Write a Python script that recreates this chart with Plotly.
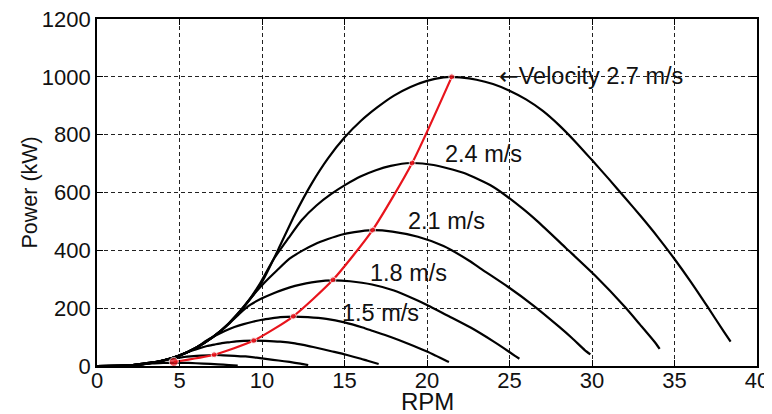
import plotly.graph_objects as go

# ---- data (RPM, kW) ----
rpm_27 = [0, 2, 3, 4, 5, 6, 7, 8, 9, 10, 11, 12, 13, 14, 15, 16, 17, 18, 19, 20, 21, 21.4, 22, 23, 24, 25, 26, 27, 28, 29, 30, 31, 32, 33, 34, 35, 36, 37, 38, 38.4]
kw_27 = [0, 2, 8, 19, 36, 63, 99, 148, 211, 290, 405, 525, 630, 718, 790, 848, 895, 935, 965, 986, 998, 1000, 998, 990, 975, 952, 922, 883, 833, 775, 712, 648, 582, 515, 445, 370, 290, 205, 118, 84]

rpm_24 = [0, 2, 4, 5, 6, 7, 8, 8.9, 9.8, 10.7, 11.6, 12.4, 13.3, 14.2, 15.1, 16.0, 16.9, 17.8, 19.0, 20.4, 22.2, 24.0, 25.8, 26.7, 28.4, 30.2, 32.0, 32.9, 33.8, 34.1]
kw_24 = [0, 2, 19, 36, 63, 99, 148, 204, 278, 369, 442, 504, 555, 595, 628, 656, 677, 692, 702, 695, 668, 620, 544, 500, 409, 312, 204, 144, 83, 59]

rpm_21 = [0, 2, 4, 5, 6, 7, 7.8, 8.56, 9.33, 10.1, 10.9, 11.67, 12.45, 13.2, 14.0, 14.8, 15.6, 16.65, 17.9, 19.45, 21.0, 22.56, 23.3, 24.9, 26.45, 28.0, 28.8, 29.56, 29.9]
kw_21 = [0, 2, 19, 36, 63, 99, 136, 183, 236, 285, 330, 371, 399, 421, 439, 454, 463, 470, 465, 447, 415, 364, 335, 274, 209, 136, 96, 55, 40]

rpm_18 = [0, 2, 4, 5, 6, 7.33, 8.0, 8.67, 9.33, 10.0, 10.67, 11.33, 12.0, 12.67, 13.33, 14.27, 15.33, 16.67, 18.0, 19.33, 20.0, 21.33, 22.67, 24.0, 24.67, 25.33, 25.6]
kw_18 = [0, 2, 19, 36, 62, 114, 146, 183, 213, 234, 251, 265, 277, 286, 292, 296, 293, 282, 261, 229, 211, 172, 132, 86, 61, 35, 25]

rpm_15 = [0, 2, 3, 4, 5, 5.56, 6.11, 6.67, 7.22, 7.78, 8.33, 8.89, 9.44, 10.0, 10.56, 11.1, 11.9, 12.78, 13.9, 15.0, 16.1, 16.67, 17.8, 18.9, 20.0, 20.56, 21.1, 21.33]
kw_15 = [0, 2, 8, 19, 36, 50, 67, 89, 106, 122, 135, 145, 153, 160, 165, 169, 171, 169, 163, 151, 133, 122, 100, 76, 50, 35, 20, 14]

rpm_12 = [0, 2, 3, 4, 4.44, 5.33, 5.78, 6.22, 6.67, 7.11, 7.56, 8.0, 8.44, 8.89, 9.5, 10.2, 11.1, 12.0, 12.9, 13.3, 14.2, 15.1, 16.0, 16.4, 17.07]
kw_12 = [0, 2, 8, 18, 25, 44, 54, 62, 69, 74, 79, 82, 85, 87, 88, 87, 84, 78, 68, 63, 51, 39, 25, 18, 7]

rpm_09 = [0, 2, 2.67, 3.33, 4.33, 5.0, 5.67, 6.33, 7.13, 7.67, 8.33, 9.0, 9.67, 10.33, 11.0, 11.67, 12.33, 12.8]
kw_09 = [0, 2.3, 5.5, 11, 23, 29, 33, 36, 38, 37, 35, 33, 29, 24, 19, 14, 8, 3]

rpm_06 = [0, 1.33, 2.22, 2.89, 3.33, 3.78, 4.22, 4.75, 5.55, 6.44, 7.33, 8.0, 8.53]
kw_06 = [0, 0.7, 3.2, 7, 9, 10, 10.6, 11, 10.5, 8.5, 5.7, 3.2, 1]

peak_rpm = [4.65, 7.1, 9.5, 11.9, 14.3, 16.7, 19.1, 21.5]
peak_kw = [14, 39, 88, 172, 298, 470, 702, 1000]

curve_labels = ["2.4 m/s", "2.1 m/s", "1.8 m/s", "1.5 m/s"]
label_rpm = [23.4, 21.2, 18.9, 17.2]
label_kw = [733, 502, 322, 183]

arrow_text = "\u2190"
top_label = "Velocity 2.7 m/s"
x_title = "RPM"
y_title = "Power (kW)"

x_ticks = [0, 5, 10, 15, 20, 25, 30, 35, 40]
y_ticks = [0, 200, 400, 600, 800, 1000, 1200]

FONT = "Liberation Sans, Arial, sans-serif"
TXT = "#111"

fig = go.Figure()
curves = [(rpm_27, kw_27), (rpm_24, kw_24), (rpm_21, kw_21), (rpm_18, kw_18),
          (rpm_15, kw_15), (rpm_12, kw_12), (rpm_09, kw_09), (rpm_06, kw_06)]
for rx, ky in curves:
    fig.add_trace(go.Scatter(x=rx, y=ky, mode="lines",
                             line=dict(color="black", width=2.2, shape="spline", smoothing=0.6),
                             showlegend=False, hoverinfo="skip"))

fig.add_trace(go.Scatter(x=peak_rpm, y=peak_kw, mode="lines+markers",
                         line=dict(color="#e8141c", width=2.2, shape="spline", smoothing=0.6),
                         marker=dict(color="#e8141c", size=[9, 6, 6, 6, 6, 6, 6, 6]),
                         showlegend=False, hoverinfo="skip"))

for t, xr, yk in zip(curve_labels, label_rpm, label_kw):
    fig.add_annotation(x=xr, y=yk, text=t, showarrow=False,
                       font=dict(family=FONT, size=23.5, color=TXT),
                       xanchor="center", yanchor="middle")

fig.add_annotation(x=24.25, y=1004,
                   text='<span style="font-family:DejaVu Sans">' + arrow_text + '</span>' + top_label,
                   showarrow=False, font=dict(family=FONT, size=23.5, color=TXT),
                   xanchor="left", yanchor="middle")

# axis titles
fig.add_annotation(x=20, y=0, xref="x", yref="paper", yshift=-35, text=x_title,
                   showarrow=False, font=dict(family=FONT, size=24, color=TXT),
                   xanchor="center", yanchor="middle")
fig.add_annotation(x=0, y=0.5, xref="paper", yref="paper", xshift=-68, text=y_title,
                   textangle=-90, showarrow=False, font=dict(family=FONT, size=21.5, color=TXT),
                   xanchor="center", yanchor="middle")

axis_common = dict(showline=True, linecolor="black", linewidth=1.6, mirror="ticks",
                   ticks="inside", ticklen=6, tickwidth=1.2, tickcolor="black",
                   showgrid=True, gridcolor="#222", gridwidth=1, griddash="4px,3px",
                   zeroline=False, automargin=False, ticklabeloverflow="allow",
                   tickfont=dict(family=FONT, size=22, color=TXT))

fig.update_xaxes(range=[0, 40], tickvals=x_ticks, ticklabelstandoff=-6, **axis_common)
fig.update_yaxes(range=[0, 1200], tickvals=y_ticks, **axis_common)

# the page adds an 8px body margin, so the figure is sized and margined to land
# its plot area where the reference has it
fig.update_layout(width=764, height=406, margin=dict(l=89, r=15, t=11, b=48),
                  paper_bgcolor="white", plot_bgcolor="white",
                  font=dict(family=FONT, color=TXT))

fig.write_html("out.html")
